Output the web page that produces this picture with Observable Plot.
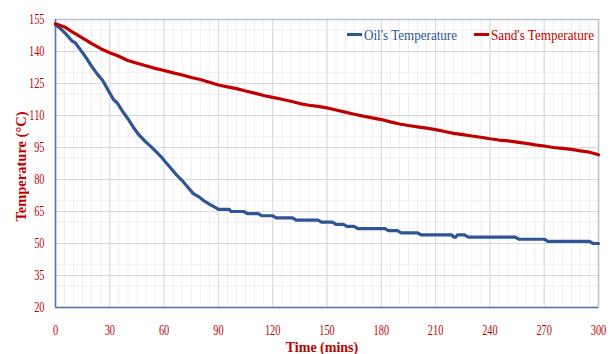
<!DOCTYPE html>
<html>
<head>
<meta charset="utf-8">
<script src="https://cdn.jsdelivr.net/npm/d3@7"></script>
<script src="https://cdn.jsdelivr.net/npm/@observablehq/plot@0.6"></script>
<style>
  html, body { margin: 0; padding: 0; background: #ffffff; }
  #chart { position: relative; width: 614px; height: 354px; overflow: hidden; }
</style>
</head>
<body>
<div id="chart"></div>
<script>
// ---- data ----
const seriesNames = ["Oil's Temperature", "Sand's Temperature"];
const seriesColors = ["#2f5597", "#c00000"];

const oilTime = [0, 3, 6, 9, 11, 14, 17, 20, 23, 26, 29, 32, 34, 37, 40, 43, 46, 49, 52, 55, 58, 61, 64, 67, 70, 73, 76, 79, 82, 85, 88, 90,
  96, 97, 104, 106, 112, 114, 120, 122, 131, 133, 145, 147, 153, 155, 159, 161, 165, 167, 182, 184, 189, 191, 200, 202, 219, 220, 221, 222, 226, 228, 254, 256, 270, 272, 295, 297, 300];
const oilTemp = [152.5, 150.5, 148, 145, 144, 140.5, 137, 133, 129.5, 126.5, 122, 117.5, 116, 112, 108.5, 104.5, 101, 98.3, 96, 93.5, 91, 88, 85, 82, 79.5, 76.5, 73.5, 72, 70, 68.5, 67, 66,
  66, 65, 65, 64, 64, 63, 63, 62, 62, 61, 61, 60, 60, 59, 59, 58, 58, 57, 57, 56, 56, 55, 55, 54, 54, 53, 53, 54, 54, 53, 53, 52, 52, 51, 51, 50, 50];

const sandTime = d3.range(0, 301, 5);
const sandTemp = [153, 151.5, 148.8, 146.3, 143.7, 141.3, 139.4, 137.8, 135.8, 134.5,
  133.3, 132.1, 131.1, 130, 129, 127.8, 126.9, 125.6, 124.3, 123.4,
  122.6, 121.5, 120.5, 119.4, 118.5, 117.6, 116.7, 115.6, 114.8, 114.3,
  113.6, 112.6, 111.6, 110.6, 109.7, 108.9, 108.1, 107, 106, 105.3,
  104.7, 104.1, 103.4, 102.5, 101.6, 101, 100.4, 99.8, 99.1, 98.5,
  98.1, 97.5, 96.9, 96.2, 95.7, 95, 94.6, 94.1, 93.4, 92.8,
  91.6];

const xTicks = [0, 30, 60, 90, 120, 150, 180, 210, 240, 270, 300];
const yTicks = [20, 35, 50, 65, 80, 95, 110, 125, 140, 155];
const xMinorTicks = d3.range(0, 301, 5);
const yMinorTicks = d3.range(20, 156, 10);
const xTitle = "Time (mins)";
const yTitle = "Temperature (°C)";

// ---- tables built from the arrays ----
const oil = oilTime.map((t, i) => ({t, v: oilTemp[i]}));
const sand = sandTime.map((t, i) => ({t, v: sandTemp[i]}));

const red = "#c00000";
const serif = "'Liberation Serif', 'Times New Roman', serif";

const plot = Plot.plot({
  width: 614,
  height: 354,
  marginLeft: 55,
  marginRight: 16,
  marginTop: 19,
  marginBottom: 47,
  style: { fontFamily: serif, fontSize: "14px", color: red, background: "#ffffff", overflow: "visible" },
  x: { domain: [0, 300], label: null },
  y: { domain: [20, 155], label: null },
  marks: [
    Plot.gridX(xMinorTicks, { stroke: "#eeeeee", strokeOpacity: 1 }),
    Plot.gridY(yMinorTicks, { stroke: "#eeeeee", strokeOpacity: 1 }),
    Plot.gridX(xTicks, { stroke: "#d9d9d9", strokeOpacity: 1 }),
    Plot.gridY(yTicks, { stroke: "#d9d9d9", strokeOpacity: 1 }),
    Plot.frame({ stroke: "#b4c1d4", strokeWidth: 1.5 }),
    Plot.axisX(xTicks, { tickSize: 0, tickPadding: 18, fill: red, fontSize: 14 }),
    Plot.axisY(yTicks, { tickSize: 0, tickPadding: 11, fill: red, fontSize: 14 }),
    Plot.ruleX([0], { stroke: "#5a79ad", strokeWidth: 1.5 }),
    Plot.ruleY([20], { stroke: "#5a79ad", strokeWidth: 1.5 }),
    Plot.line(oil, { x: "t", y: "v", stroke: seriesColors[0], strokeWidth: 3.2, strokeLinejoin: "round" }),
    Plot.line(sand, { x: "t", y: "v", stroke: seriesColors[1], strokeWidth: 3.2, strokeLinejoin: "round" }),
    Plot.text([yTitle], { frameAnchor: "left", textAnchor: "middle", dx: -34, dy: 3, rotate: -90, fill: red, fontWeight: "bold", fontSize: 14.5, fontFamily: serif }),
    Plot.text([xTitle], { frameAnchor: "bottom", dx: -5, dy: 44, fill: red, fontWeight: "bold", fontSize: 14, fontFamily: serif })
  ]
});

// compress the tick labels horizontally like the reference's narrow serif digits
plot.querySelectorAll('g[aria-label="x-axis tick label"] text, g[aria-label="y-axis tick label"] text').forEach(t => {
  const tr = t.getAttribute("transform") || "";
  t.setAttribute("transform", tr + " scale(0.74,1)");
});

// legend inside the plot area, top right
const svg = d3.select(plot);
const legend = svg.append("g").attr("font-family", serif).attr("font-size", 14).attr("text-anchor", "start");
const legendItems = [
  { name: seriesNames[0], color: seriesColors[0], x: 347, len: 93 },
  { name: seriesNames[1], color: seriesColors[1], x: 474, len: 103 }
];
legendItems.forEach(d => {
  legend.append("line").attr("x1", d.x).attr("x2", d.x + 15).attr("y1", 34.5).attr("y2", 34.5)
    .attr("stroke", d.color).attr("stroke-width", 3);
  legend.append("text").attr("x", d.x + 17).attr("y", 39.5).attr("fill", d.color)
    .attr("text-anchor", "start")
    .attr("textLength", d.len).attr("lengthAdjust", "spacingAndGlyphs").text(d.name);
});

document.getElementById("chart").appendChild(plot);
</script>
</body>
</html>
